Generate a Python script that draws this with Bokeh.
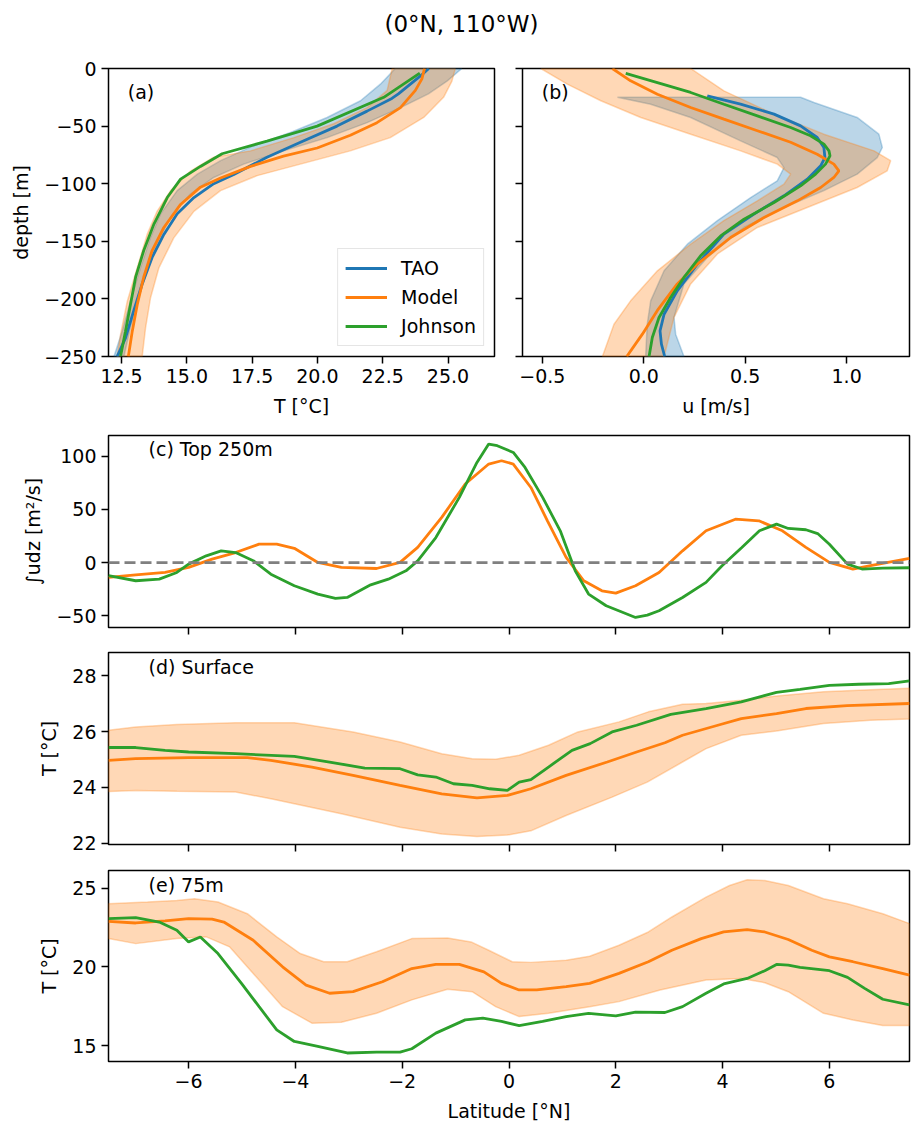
from bokeh.plotting import figure
from bokeh.layouts import column, row
from bokeh.models import (Label, Span, FixedTicker, CustomJSTickFormatter,
                          Range1d, Legend, LegendItem)
from bokeh.embed import file_html
from bokeh.resources import INLINE

# ---------------- data ----------------
# (a) temperature profiles at (0N,110W)
a_depth_tao = [0, -6, -22, -26, -37, -50, -64, -77, -92, -100, -112, -126, -144, -164, -187, -210, -234, -250]
a_T_tao = [24.26, 23.97, 23.1, 22.85, 21.9, 20.75, 19.35, 18.07, 16.8, 16.03, 15.27, 14.63, 14.12, 13.67, 13.29, 12.97, 12.65, 12.33]
a_depth_mod = [0, -9, -19, -34, -47, -58, -69, -76, -85, -95, -103, -118, -138, -158, -181, -205, -228, -250]
a_T_mod = [24.1, 24.0, 23.75, 23.18, 22.28, 21.26, 19.99, 18.7, 17.44, 16.29, 15.52, 14.76, 14.12, 13.67, 13.35, 13.1, 12.91, 12.76]
a_depth_joh = [-4, -25, -50, -63, -74, -85, -96, -112, -135, -158, -181, -205, -228, -250]
a_T_joh = [23.92, 22.54, 19.99, 18.07, 16.35, 15.52, 14.76, 14.25, 13.74, 13.35, 13.04, 12.84, 12.65, 12.46]
a_mod_hi_depth = [0, -11, -25, -42.5, -60, -71.5, -83, -93, -106, -124, -147, -173, -199, -225, -250]
a_mod_hi_T = [25.28, 25.15, 24.83, 24.07, 22.79, 21.26, 19.35, 17.69, 16.29, 15.27, 14.5, 13.93, 13.61, 13.42, 13.29]
a_mod_lo_depth = [0, -19, -34, -48, -60, -71.5, -77, -89, -106, -124, -144, -173, -202, -231, -250]
a_mod_lo_T = [22.86, 22.67, 21.9, 20.62, 19.1, 17.44, 16.03, 15.14, 14.38, 13.86, 13.48, 13.1, 12.72, 12.46, 12.33]
a_tao_hi_depth = [0, -11, -22, -25, -34, -47, -60, -71.5, -83, -94.6, -109, -129, -152.5, -175.6, -198.8, -224.8, -250]
a_tao_hi_T = [25.53, 24.96, 24.25, 23.98, 23.18, 21.9, 20.37, 18.71, 17.18, 16.03, 15.14, 14.38, 13.86, 13.48, 13.16, 12.84, 12.59]
a_tao_lo_depth = [0, -13.6, -28, -42.5, -55.6, -67, -80, -91.7, -106, -126, -146.7, -172.7, -201.7, -227.7, -250]
a_tao_lo_T = [22.98, 22.41, 21.65, 20.37, 18.97, 17.56, 16.29, 15.4, 14.63, 14.0, 13.61, 13.23, 12.84, 12.53, 12.21]

# (b) zonal velocity profiles
b_depth_tao = [-23.7, -31.0, -39.6, -49.8, -59.9, -68.6, -77.3, -84.5, -96.1, -110.5, -126.4, -143.8, -169.8, -193.0, -213.3, -227.7, -239.3, -250]
b_u_tao = [0.313, 0.477, 0.642, 0.773, 0.855, 0.888, 0.893, 0.872, 0.806, 0.691, 0.543, 0.395, 0.264, 0.165, 0.100, 0.080, 0.087, 0.103]
b_depth_mod = [0, -10.7, -22.3, -33.9, -44, -54, -64, -74.4, -83, -88.8, -94.6, -103.3, -114.9, -129.3, -146.7, -169.8, -187, -210, -230.6, -250]
b_u_mod = [-0.155, -0.065, 0.067, 0.231, 0.395, 0.56, 0.724, 0.855, 0.937, 0.962, 0.937, 0.872, 0.757, 0.593, 0.428, 0.264, 0.165, 0.067, -0.007, -0.084]
b_depth_joh = [-4.3, -12.2, -20.8, -31.0, -41.1, -51.2, -58.4, -65.7, -71.5, -75.8, -83.0, -91.7, -101.9, -116.3, -130.8, -145.3, -162.6, -181.4, -198.8, -216.1, -233.5, -250]
b_u_joh = [-0.089, 0.067, 0.231, 0.395, 0.560, 0.724, 0.822, 0.888, 0.913, 0.918, 0.896, 0.847, 0.773, 0.642, 0.494, 0.379, 0.280, 0.198, 0.132, 0.075, 0.042, 0.026]
b_mod_lo_depth = [0, -13.6, -28, -42.5, -57, -71.5, -83, -91.7, -100.4, -114.9, -132, -152.5, -175.6, -201.7, -222, -250]
b_mod_lo_u = [-0.508, -0.377, -0.212, -0.015, 0.231, 0.477, 0.658, 0.724, 0.691, 0.56, 0.395, 0.231, 0.067, -0.065, -0.147, -0.204]
b_mod_hi_depth = [0, -19.4, -39.6, -57, -71.5, -80, -88.8, -103.3, -120.7, -138, -161, -187, -216, -250]
b_mod_hi_u = [0.231, 0.395, 0.642, 0.888, 1.135, 1.217, 1.2, 1.052, 0.806, 0.56, 0.363, 0.231, 0.149, 0.1]
b_tao_lo_depth = [-25, -31, -42.5, -62.8, -77.3, -86, -97.5, -112, -132, -152.5, -175.6, -201.7, -222, -250]
b_tao_lo_u = [-0.13, 0.034, 0.231, 0.477, 0.658, 0.691, 0.658, 0.527, 0.363, 0.215, 0.1, 0.034, 0.017, 0.009]
b_tao_hi_depth = [-25, -29.5, -42.5, -57, -68.6, -77.3, -91.7, -106, -120.7, -138, -164, -187, -216, -230.6, -250]
b_tao_hi_u = [0.773, 0.839, 1.052, 1.159, 1.176, 1.151, 1.052, 0.888, 0.691, 0.494, 0.313, 0.198, 0.149, 0.157, 0.198]

# (c) transport in top 250 m
c_lat_joh = [-7.5, -6.99, -6.55, -6.22, -6.0, -5.67, -5.39, -5.12, -4.79, -4.46, -4.02, -3.58, -3.25, -3.03, -2.59, -2.26, -1.93, -1.71, -1.37, -0.93, -0.6, -0.38, -0.22, 0.08, 0.3, 0.63, 0.96, 1.24, 1.49, 1.82, 2.37, 2.59, 2.81, 3.25, 3.69, 3.99, 4.36, 4.69, 5.01, 5.23, 5.56, 5.78, 6.0, 6.34, 6.61, 7.0, 7.5]
c_joh = [-12.4, -17.1, -15.6, -9.3, -1.5, 6.3, 11.0, 9.4, 1.7, -10.9, -21.8, -29.6, -33.7, -32.8, -20.9, -15.6, -7.8, 1.6, 23.5, 61.2, 94.0, 111.3, 109.7, 103.4, 89.3, 61.2, 29.8, -7.8, -29.6, -40.6, -51.6, -49.4, -45.3, -32.8, -18.6, -3.0, 14.2, 29.8, 36.1, 32.0, 30.8, 27.2, 17.2, -1.5, -6.1, -5.3, -4.9]
c_lat_mod = [-7.5, -6.99, -6.44, -6.0, -5.56, -5.12, -4.68, -4.35, -4.02, -3.58, -3.14, -2.48, -2.04, -1.71, -1.26, -0.82, -0.38, -0.14, 0.08, 0.41, 0.72, 1.07, 1.4, 1.74, 2.0, 2.37, 2.81, 3.25, 3.69, 4.24, 4.68, 5.12, 5.56, 6.0, 6.44, 6.77, 7.5]
c_mod = [-14.0, -11.5, -9.3, -4.6, 3.2, 9.4, 17.3, 17.3, 13.4, 0.1, -4.6, -5.6, 0.1, 14.2, 42.4, 73.7, 92.5, 95.6, 92.5, 70.5, 39.2, 4.8, -17.1, -26.5, -28.7, -21.8, -9.3, 11.0, 29.8, 40.7, 39.2, 29.8, 14.2, 0.1, -6.1, -3.0, 3.9]

# (d) surface temperature
d_lat_joh = [-7.5, -6.99, -6.44, -6.0, -5.12, -4.02, -3.36, -2.7, -2.04, -1.71, -1.37, -1.04, -0.69, -0.36, -0.03, 0.19, 0.41, 0.74, 1.18, 1.52, 1.93, 2.39, 3.03, 3.69, 4.35, 5.01, 5.45, 6.0, 6.55, 7.11, 7.5]
d_joh = [25.43, 25.43, 25.33, 25.27, 25.21, 25.11, 24.91, 24.69, 24.67, 24.45, 24.37, 24.13, 24.07, 23.95, 23.89, 24.19, 24.28, 24.73, 25.33, 25.57, 25.99, 26.23, 26.62, 26.83, 27.07, 27.41, 27.52, 27.66, 27.7, 27.72, 27.82]
d_lat_mod = [-7.5, -6.99, -6.0, -4.9, -4.46, -3.69, -2.92, -2.04, -1.26, -0.6, -0.03, 0.41, 1.07, 1.84, 2.39, 2.92, 3.25, 3.91, 4.35, 5.01, 5.56, 6.33, 7.5]
d_mod = [24.97, 25.03, 25.07, 25.07, 24.97, 24.73, 24.43, 24.07, 23.77, 23.62, 23.71, 23.95, 24.43, 24.91, 25.27, 25.6, 25.87, 26.23, 26.47, 26.65, 26.83, 26.93, 27.01]
d_hi_lat = [-7.5, -6.99, -6.22, -5.12, -4.02, -2.92, -2.04, -1.26, -0.69, -0.25, 0.19, 0.74, 1.29, 2.06, 2.61, 3.25, 3.69, 4.35, 5.01, 5.89, 6.77, 7.5]
d_hi = [26.05, 26.17, 26.26, 26.32, 26.32, 25.99, 25.63, 25.21, 25.03, 25.01, 25.15, 25.51, 25.99, 26.35, 26.71, 26.98, 27.01, 27.13, 27.28, 27.43, 27.5, 27.56]
d_lo_lat = [-7.5, -6.99, -6.22, -5.12, -4.46, -4.02, -3.14, -2.04, -1.26, -0.6, -0.03, 0.41, 1.07, 1.93, 2.59, 3.25, 3.69, 4.35, 5.01, 5.89, 6.77, 7.5]
d_lo = [23.85, 23.89, 23.86, 23.83, 23.59, 23.41, 23.05, 22.57, 22.33, 22.24, 22.29, 22.44, 22.99, 23.65, 24.19, 24.91, 25.39, 25.87, 26.02, 26.29, 26.41, 26.45]

# (e) temperature at 75 m
e_lat_mod = [-7.5, -6.99, -6.44, -6.0, -5.56, -5.34, -4.79, -4.24, -3.8, -3.36, -2.92, -2.37, -1.82, -1.37, -0.93, -0.47, -0.14, 0.19, 0.52, 1.07, 1.51, 2.06, 2.61, 3.05, 3.6, 4.02, 4.46, 4.79, 5.23, 5.67, 6.0, 6.44, 7.0, 7.5]
e_mod = [22.89, 22.79, 22.92, 23.06, 23.04, 22.85, 21.69, 20.01, 18.85, 18.33, 18.43, 19.06, 19.9, 20.16, 20.16, 19.69, 18.96, 18.54, 18.54, 18.75, 18.96, 19.59, 20.33, 21.06, 21.8, 22.22, 22.37, 22.22, 21.74, 21.06, 20.64, 20.33, 19.9, 19.48]
e_lat_joh = [-7.5, -6.99, -6.55, -6.22, -6.0, -5.78, -5.45, -5.01, -4.68, -4.35, -4.02, -3.58, -3.03, -2.48, -2.04, -1.82, -1.37, -0.82, -0.49, -0.14, 0.19, 0.63, 1.07, 1.49, 2.0, 2.37, 2.92, 3.25, 3.69, 4.02, 4.46, 4.79, 5.01, 5.23, 5.45, 6.0, 6.34, 6.66, 7.0, 7.5]
e_joh = [23.06, 23.13, 22.85, 22.33, 21.59, 21.9, 20.85, 18.96, 17.48, 16.01, 15.27, 14.96, 14.54, 14.6, 14.6, 14.81, 15.8, 16.64, 16.75, 16.54, 16.28, 16.54, 16.85, 17.06, 16.89, 17.13, 17.11, 17.48, 18.33, 18.92, 19.27, 19.76, 20.16, 20.12, 19.97, 19.76, 19.34, 18.64, 17.95, 17.59]
e_hi_lat = [-7.5, -6.77, -6.22, -5.89, -5.45, -4.9, -4.35, -3.91, -3.47, -3.03, -2.48, -1.82, -1.15, -0.71, -0.38, 0.06, 0.41, 1.07, 1.51, 2.06, 2.61, 3.05, 3.69, 4.13, 4.46, 4.79, 5.23, 5.89, 6.34, 7.0, 7.5]
e_hi = [24.01, 24.12, 24.22, 24.33, 24.12, 23.38, 21.91, 20.85, 20.33, 20.33, 20.96, 21.8, 21.84, 21.59, 21.06, 20.33, 20.29, 20.43, 20.68, 21.38, 22.22, 23.17, 24.43, 25.17, 25.53, 25.48, 25.17, 24.33, 24.01, 23.38, 22.75]
e_lo_lat = [-7.5, -6.99, -6.22, -5.67, -5.23, -4.79, -4.24, -3.69, -3.14, -2.48, -1.82, -1.15, -0.69, -0.25, 0.19, 0.74, 1.51, 2.06, 2.83, 3.69, 4.35, 4.79, 5.23, 5.89, 6.44, 7.0, 7.5]
e_lo = [21.8, 21.48, 21.8, 21.91, 21.27, 19.59, 17.48, 16.43, 16.49, 17.06, 17.91, 18.58, 18.43, 17.48, 16.85, 17.06, 17.48, 17.8, 18.54, 19.17, 19.27, 19.0, 18.43, 17.06, 16.64, 16.28, 16.28]

# ticks
a_xticks = [12.5, 15.0, 17.5, 20.0, 22.5, 25.0]
depth_ticks = [0, -50, -100, -150, -200, -250]
b_xticks = [-0.5, 0.0, 0.5, 1.0]
c_yticks = [-50, 0, 50, 100]
d_yticks = [22, 24, 26, 28]
e_yticks = [15, 20, 25]
lat_ticks = [-6, -4, -2, 0, 2, 4, 6]

series_names = ["TAO", "Model", "Johnson"]
title_text = "(0°N, 110°W)"

# ---------------- style ----------------
C_TAO = "#1f77b4"
C_MOD = "#ff7f0e"
C_JOH = "#2ca02c"
FONT = "DejaVu Sans"
FS = "19px"
LW = 2.8


def fmt(dec):
    return CustomJSTickFormatter(code=(
        "const s = Math.abs(tick).toFixed(%d);"
        "return (tick < 0 ? '\u2212' : '') + s;" % dec))


def make_fig(w, h, xr, yr, bl, br, bt, bb):
    p = figure(width=w, height=h, x_range=Range1d(*xr), y_range=Range1d(*yr),
               min_border_left=bl, min_border_right=br, min_border_top=bt,
               min_border_bottom=bb, output_backend="svg", toolbar_location=None)
    p.xgrid.visible = False
    p.ygrid.visible = False
    p.outline_line_color = "black"
    p.outline_line_width = 1.5
    p.background_fill_color = "white"
    p.border_fill_color = "white"
    for ax in (p.xaxis[0], p.yaxis[0]):
        ax.axis_line_color = None
        ax.major_tick_out = 7
        ax.major_tick_in = 0
        ax.major_tick_line_width = 1.5
        ax.major_tick_line_color = "black"
        ax.minor_tick_line_color = None
        ax.major_label_text_font = FONT
        ax.major_label_text_font_size = FS
        ax.major_label_text_color = "black"
        ax.major_label_standoff = 5
        ax.axis_label_text_font = FONT
        ax.axis_label_text_font_size = FS
        ax.axis_label_text_font_style = "normal"
        ax.axis_label_text_color = "black"
        ax.axis_label_standoff = 9
    return p


def set_ticks(ax, ticks, dec, show=True):
    ax.ticker = FixedTicker(ticks=ticks)
    ax.formatter = fmt(dec)
    if not show:
        # tick marks only (shared axis): labels are not painted
        ax.major_label_text_font_size = "1px"
        ax.major_label_text_color = None
        ax.major_label_standoff = 0


def panel_label(p, text, fx, fy):
    x0, x1 = p.x_range.start, p.x_range.end
    y0, y1 = p.y_range.start, p.y_range.end
    p.add_layout(Label(x=x0 + fx * (x1 - x0), y=y0 + fy * (y1 - y0), text=text,
                       text_font=FONT, text_font_size=FS, text_color="black",
                       text_baseline="middle", text_align="left"))


def band(p, hi_x, hi_y, lo_x, lo_y, color):
    xs = list(hi_x) + list(lo_x)[::-1]
    ys = list(hi_y) + list(lo_y)[::-1]
    p.patch(xs, ys, fill_color=color, fill_alpha=0.3, line_color=color,
            line_alpha=0.3, line_width=1.5)


# ---------------- title ----------------
# the column aligns frames of its children: frame spans page pixels 108..909
ft = figure(width=914, height=40, x_range=Range1d(108, 909), y_range=Range1d(0, 40),
            x_axis_type=None, y_axis_type=None,
            min_border_left=108, min_border_right=5, min_border_top=0, min_border_bottom=0,
            output_backend="svg", toolbar_location=None)
ft.outline_line_color = None
ft.add_layout(Label(x=461, y=17, text=title_text, text_font=FONT, text_font_size="23px",
                    text_color="black", text_align="center", text_baseline="middle"))

# ---------------- (a) ----------------
fa = make_fig(508, 380, (12.0, 26.78), (-250, 0), 108, 14, 28, 64)
band(fa, a_tao_hi_T, a_tao_hi_depth, a_tao_lo_T, a_tao_lo_depth, C_TAO)
band(fa, a_mod_hi_T, a_mod_hi_depth, a_mod_lo_T, a_mod_lo_depth, C_MOD)
la1 = fa.line(a_T_tao, a_depth_tao, line_color=C_TAO, line_width=LW)
la2 = fa.line(a_T_mod, a_depth_mod, line_color=C_MOD, line_width=LW)
la3 = fa.line(a_T_joh, a_depth_joh, line_color=C_JOH, line_width=LW)
set_ticks(fa.xaxis[0], a_xticks, 1)
set_ticks(fa.yaxis[0], depth_ticks, 0)
fa.xaxis.axis_label = "T [°C]"
fa.yaxis.axis_label = "depth [m]"
panel_label(fa, "(a)", 0.05, 0.918)
leg = Legend(items=[LegendItem(label=series_names[0], renderers=[la1]),
                    LegendItem(label=series_names[1], renderers=[la2]),
                    LegendItem(label=series_names[2], renderers=[la3])],
             location="bottom_right")
leg.margin = 10
leg.padding = 7
leg.spacing = 5
leg.label_height = 24
leg.glyph_height = 24
leg.glyph_width = 42
leg.label_standoff = 14
leg.label_text_font = FONT
leg.label_text_font_size = FS
leg.label_text_color = "black"
leg.border_line_color = "#cccccc"
leg.border_line_width = 1.5
leg.background_fill_alpha = 0.8
fa.add_layout(leg)

# ---------------- (b) ----------------
fb = make_fig(406, 380, (-0.598, 1.31), (-250, 0), 14, 5, 28, 64)
band(fb, b_tao_hi_u, b_tao_hi_depth, b_tao_lo_u, b_tao_lo_depth, C_TAO)
band(fb, b_mod_hi_u, b_mod_hi_depth, b_mod_lo_u, b_mod_lo_depth, C_MOD)
fb.line(b_u_tao, b_depth_tao, line_color=C_TAO, line_width=LW)
fb.line(b_u_mod, b_depth_mod, line_color=C_MOD, line_width=LW)
fb.line(b_u_joh, b_depth_joh, line_color=C_JOH, line_width=LW)
set_ticks(fb.xaxis[0], b_xticks, 1)
set_ticks(fb.yaxis[0], depth_ticks, 0, show=False)
fb.xaxis.axis_label = "u [m/s]"
panel_label(fb, "(b)", 0.05, 0.918)

# ---------------- (c) ----------------
fc = make_fig(914, 220, (-7.5, 7.5), (-61.0, 119.3), 108, 5, 15, 13)
fc.add_layout(Span(location=0, dimension="width", line_color="#808080",
                   line_width=2.8, line_dash="11 5"))
fc.line(c_lat_mod, c_mod, line_color=C_MOD, line_width=LW)
fc.line(c_lat_joh, c_joh, line_color=C_JOH, line_width=LW)
set_ticks(fc.xaxis[0], lat_ticks, 0, show=False)
set_ticks(fc.yaxis[0], c_yticks, 0)
fc.yaxis.axis_label = "∫udz [m²/s]"
panel_label(fc, "(c) Top 250m", 0.05, 0.93)

# ---------------- (d) ----------------
fd = make_fig(914, 218, (-7.5, 7.5), (21.95, 28.84), 108, 5, 12, 14)
band(fd, d_hi_lat, d_hi, d_lo_lat, d_lo, C_MOD)
fd.line(d_lat_mod, d_mod, line_color=C_MOD, line_width=LW)
fd.line(d_lat_joh, d_joh, line_color=C_JOH, line_width=LW)
set_ticks(fd.xaxis[0], lat_ticks, 0, show=False)
set_ticks(fd.yaxis[0], d_yticks, 0)
fd.yaxis.axis_label = "T [°C]"
panel_label(fd, "(d) Surface", 0.05, 0.927)

# ---------------- (e) ----------------
fe = make_fig(914, 266, (-7.5, 7.5), (14.0, 26.12), 108, 5, 12, 62)
band(fe, e_hi_lat, e_hi, e_lo_lat, e_lo, C_MOD)
fe.line(e_lat_mod, e_mod, line_color=C_MOD, line_width=LW)
fe.line(e_lat_joh, e_joh, line_color=C_JOH, line_width=LW)
set_ticks(fe.xaxis[0], lat_ticks, 0)
set_ticks(fe.yaxis[0], e_yticks, 0)
fe.yaxis.axis_label = "T [°C]"
fe.xaxis.axis_label = "Latitude [°N]"
panel_label(fe, "(e) 75m", 0.05, 0.922)

layout = column(ft, row(fa, fb), fc, fd, fe)
open("out.html", "w").write(file_html(layout, INLINE))
